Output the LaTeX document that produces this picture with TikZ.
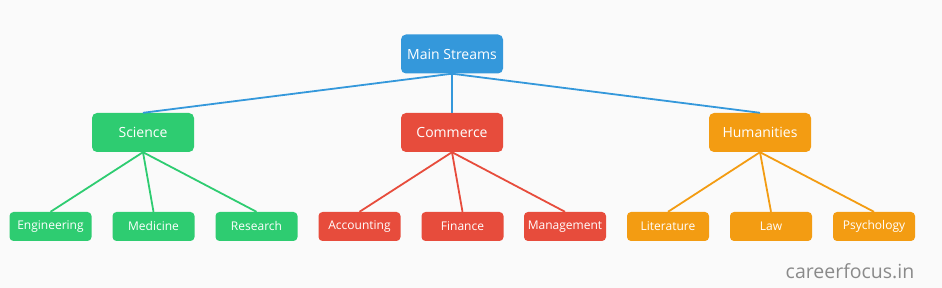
\documentclass[tikz,border=0pt]{standalone}
\usepackage{fontspec}
\setmainfont{Open Sans}
\definecolor{cblue}{HTML}{3498DB}
\definecolor{cgreen}{HTML}{2ECC71}
\definecolor{cred}{HTML}{E74C3C}
\definecolor{corange}{HTML}{F39C12}
\definecolor{bgc}{HTML}{FAFAFA}
\definecolor{wmark}{HTML}{8A8A8A}
\begin{document}
\begin{tikzpicture}[x=1pt,y=-1pt,
  topbox/.style={rounded corners=5pt, minimum width=102pt, minimum height=39pt, inner sep=0pt, text=white, font=\fontsize{14}{16}\selectfont},
  leafbox/.style={rounded corners=4pt, minimum width=82pt, minimum height=29pt, inner sep=0pt, text=white, font=\fontsize{12}{14}\selectfont},
  conn/.style={line width=1.8pt}]
\fill[bgc] (0,0) rectangle (942,288);
\useasboundingbox (0,0) rectangle (942,288);
% nodes
\node[topbox, fill=cblue] (main) at (452,54) {Main Streams};
\node[topbox, fill=cgreen] (sci) at (143,132.5) {Science};
\node[topbox, fill=cred] (com) at (452,132.5) {Commerce};
\node[topbox, fill=corange] (hum) at (760,132.5) {Humanities};
\node[leafbox, fill=cgreen] (eng) at (50.5,226.5) {Engineering};
\node[leafbox, fill=cgreen] (med) at (153.5,226.5) {Medicine};
\node[leafbox, fill=cgreen] (res) at (256.5,226.5) {Research};
\node[leafbox, fill=cred] (acc) at (359.5,226.5) {Accounting};
\node[leafbox, fill=cred] (fin) at (462.5,226.5) {Finance};
\node[leafbox, fill=cred] (man) at (565,226.5) {Management};
\node[leafbox, fill=corange] (lit) at (668,226.5) {Literature};
\node[leafbox, fill=corange] (law) at (771,226.5) {Law};
\node[leafbox, fill=corange] (psy) at (874,226.5) {Psychology};
% connectors
\draw[conn, cblue] (main.south) -- (sci.north);
\draw[conn, cblue] (main.south) -- (com.north);
\draw[conn, cblue] (main.south) -- (hum.north);
\draw[conn, cgreen] (sci.south) -- (eng.north);
\draw[conn, cgreen] (sci.south) -- (med.north);
\draw[conn, cgreen] (sci.south) -- (res.north);
\draw[conn, cred] (com.south) -- (acc.north);
\draw[conn, cred] (com.south) -- (fin.north);
\draw[conn, cred] (com.south) -- (man.north);
\draw[conn, corange] (hum.south) -- (lit.north);
\draw[conn, corange] (hum.south) -- (law.north);
\draw[conn, corange] (hum.south) -- (psy.north);
\node[text=wmark, font=\fontsize{19.5}{22}\selectfont, inner sep=0pt] (wm) at (850,271) {careerfocus.in};
\end{tikzpicture}
\end{document}
